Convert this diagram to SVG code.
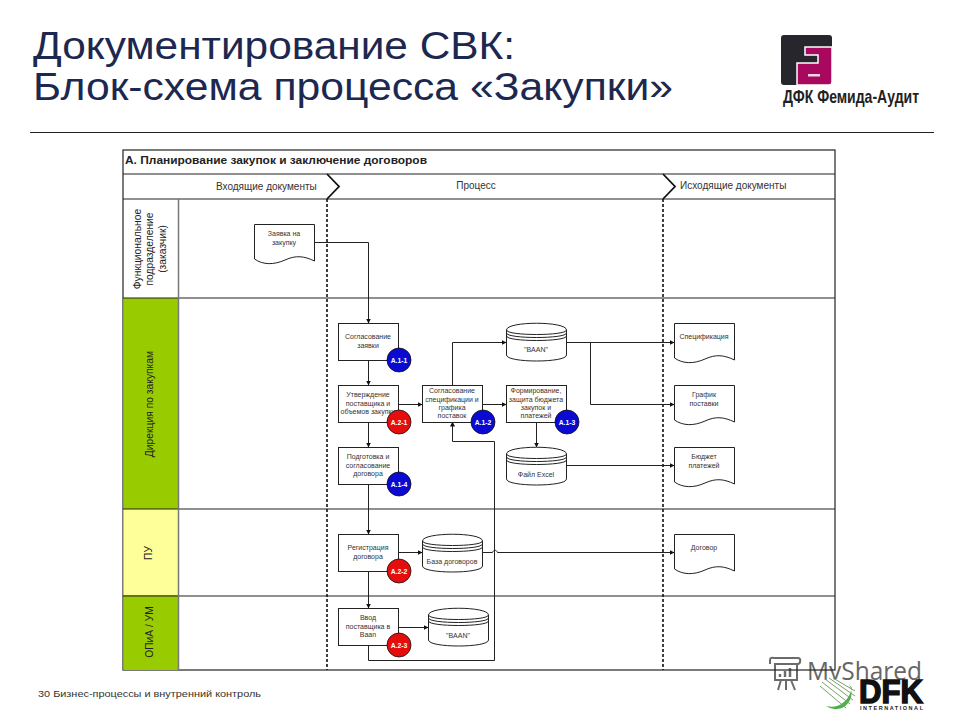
<svg xmlns="http://www.w3.org/2000/svg" width="960" height="720" viewBox="0 0 960 720">
<style>
text{font-family:"Liberation Sans",Arial,sans-serif;fill:#222}
.t{font-size:7px;text-anchor:middle;fill:#333}
.h{font-size:10px;fill:#333}
.l{font-size:10.300px;text-anchor:middle;fill:#222}
.c{font-size:6.800px;font-weight:bold;text-anchor:middle;fill:#fff}
.b{fill:#fff;stroke:#222;stroke-width:1}
.blue{fill:#0a0ad2;stroke:#111;stroke-width:.8}
.red{fill:#e60d0d;stroke:#111;stroke-width:.8}
.g{stroke:#222;fill:none}
.con{stroke:#222;fill:none;stroke-width:1}
.dash{stroke:#111;stroke-width:1.600;stroke-dasharray:3 2;fill:none}
.title{font-size:38px;fill:#1c2850}
</style>
<defs>
<marker id="a" markerWidth="5" markerHeight="5" refX="4.500" refY="2.500" orient="auto" markerUnits="userSpaceOnUse"><path d="M0 0L5 2.500L0 5z" fill="#111"/></marker>
<g id="doc"><path class="b" d="M0.500 0.500H60.500V37C50 32 42 31 31 36C20 41 9 41 0.500 35Z"/></g>
<g id="cyl"><path class="b" d="M0.500 7C0.500 -2 60.500 -2 60.500 7V32C60.500 40 0.500 40 0.500 32Z"/><path class="g" d="M0.500 7C0.500 13 60.500 13 60.500 7M0.500 10C0.500 16 60.500 16 60.500 10M0.500 13C0.500 19 60.500 19 60.500 13"/></g>
</defs>

<g id="heading">
<text class="title" x="33" y="59" textLength="482" lengthAdjust="spacingAndGlyphs">Документирование СВК:</text>
<text class="title" x="33" y="100" textLength="640" lengthAdjust="spacingAndGlyphs">Блок-схема процесса «Закупки»</text>
<line x1="30" y1="132.500" x2="934" y2="132.500" stroke="#222" stroke-width="1"/>
</g>

<g id="logo">
<rect x="781" y="35" width="51" height="50" rx="3" fill="#26262c"/>
<path d="M797 85V63H818V55H805V47H832V82C832 84 831 85 829 85Z" fill="#a8085e" stroke="#fff" stroke-width="1.500"/>
<rect x="808" y="74" width="12" height="2.500" fill="#f3d5e4"/>
<text x="783" y="103" font-size="19" font-weight="bold" textLength="136" lengthAdjust="spacingAndGlyphs" style="fill:#222">ДФК Фемида-Аудит</text>
</g>

<g id="watermark">
<g fill="none" stroke="#6b6b6b" stroke-width="2">
<path d="M770 664V660C770 657 773 658 775 658H798C801 658 801 663 798 664H775"/>
<rect x="775" y="664" width="22" height="16"/>
<path d="M781 680L778 690M786 680V690M791 680L795 690"/>
<path d="M780 677V674M785 677V671M790 677V668" stroke-width="2.500"/>
</g>
<text x="807" y="680" font-size="25" textLength="115" lengthAdjust="spacingAndGlyphs" style="fill:#666;font-family:'Open Sans','Liberation Sans',sans-serif">MyShared</text>
<circle cx="839" cy="695" r="16" fill="#fff"/>
<path d="M847 682A16 16 0 0 1 826 706C836 709 848 704 852 688Z" fill="#3aa835" fill-opacity=".9"/>
<path d="M820 686L846 708M822 682L850 704M825 679L853 700M829 678L855 696M833 678L855 691" stroke="#7aa068" stroke-width="1" fill="none"/>
<text x="859" y="703" font-size="33" font-weight="bold" textLength="64" lengthAdjust="spacingAndGlyphs" stroke="#111" stroke-width="1.500" style="fill:#111">DFK</text>
<text x="860" y="710" font-size="5.500" font-weight="bold" textLength="63" style="fill:#222">INTERNATIONAL</text>
</g>

<g id="table">
<rect x="123" y="150" width="712" height="520" fill="none" stroke="#222" stroke-width="1.200"/>
<rect x="123.500" y="298" width="55" height="211" fill="#99cc00"/>
<rect x="123.500" y="509" width="55" height="86" fill="#ffff99"/>
<rect x="123.500" y="595" width="55" height="75" fill="#99cc00"/>
<path d="M123 174H835M123 199H835M123 298H835M123 509H835M123 596H835" stroke="#222" stroke-width="1.200" fill="none"/>
<line x1="178.500" y1="199" x2="178.500" y2="670" stroke="#777" stroke-width="1.500"/>
<path d="M327 174L339 186.500L327 199M663 174L675 186.500L663 199" fill="#fff" stroke="#111" stroke-width="1.800"/>
<path class="dash" d="M327 199V670M663 199V670"/>
<text x="125" y="164" font-size="10.500" font-weight="bold" textLength="302" lengthAdjust="spacingAndGlyphs">A. Планирование закупок и заключение договоров</text>
<text class="h" x="216" y="190">Входящие документы</text>
<text class="h" x="476" y="189" text-anchor="middle">Процесс</text>
<text class="h" x="680" y="189">Исходящие документы</text>
<text class="l" transform="translate(141,249) rotate(-90)">Функциональное</text>
<text class="l" transform="translate(153,249) rotate(-90)">подразделение</text>
<text class="l" transform="translate(166,249) rotate(-90)">(заказчик)</text>
<text class="l" transform="translate(153,404) rotate(-90)">Дирекция по закупкам</text>
<text class="l" transform="translate(152,553) rotate(-90)">ПУ</text>
<text class="l" transform="translate(153,632) rotate(-90)">ОПиА / УМ</text>
</g>

<g id="connectors">
<path class="con" marker-end="url(#a)" d="M314 242.500H368.500V323"/>
<path class="con" marker-end="url(#a)" d="M368.500 360V385"/>
<path class="con" marker-end="url(#a)" d="M368.500 422V447"/>
<path class="con" marker-end="url(#a)" d="M368.500 484V534"/>
<path class="con" marker-end="url(#a)" d="M368.500 571V608"/>
<path class="con" marker-end="url(#a)" d="M399 404.500H422"/>
<path class="con" marker-end="url(#a)" d="M483 404.500H506"/>
<path class="con" marker-end="url(#a)" d="M452.500 385V342.500H506"/>
<path class="con" marker-end="url(#a)" d="M567 342.500H674"/>
<path class="con" marker-end="url(#a)" d="M590.500 342.500V404.500H674"/>
<path class="con" marker-end="url(#a)" d="M536.500 422V447"/>
<path class="con" marker-end="url(#a)" d="M567 465.500H674"/>
<path class="con" marker-end="url(#a)" d="M399 627.500H428"/>
<path class="con" marker-end="url(#a)" d="M399 552.500H422"/>
<path class="con" marker-end="url(#a)" d="M483 552.500H492.500C493.500 549.500 496.500 549.500 497.500 552.500H674"/>
<path class="con" marker-end="url(#a)" d="M368.500 645V660.500H494.500V441.500H452.500V422"/>
</g>

<g id="n-zayavka"><use href="#doc" x="254" y="224"/><text class="t"><tspan x="284" y="235.500">Заявка на</tspan><tspan x="284" y="244.500">закупку</tspan></text></g>

<g id="n-a11"><rect class="b" x="338.500" y="323.500" width="60" height="37"/><text class="t"><tspan x="368" y="339">Согласование</tspan><tspan x="368" y="348">заявки</tspan></text><circle class="blue" cx="399" cy="360" r="12"/><text class="c" x="399" y="362.500">A.1-1</text></g>
<g id="n-a21"><rect class="b" x="338.500" y="385.500" width="60" height="37"/><text class="t"><tspan x="368" y="397">Утверждение</tspan><tspan x="368" y="405.500">поставщика и</tspan><tspan x="368" y="414">объемов закупки</tspan></text><circle class="red" cx="399" cy="422" r="12"/><text class="c" x="399" y="424.500">A.2-1</text></g>
<g id="n-a14"><rect class="b" x="338.500" y="447.500" width="60" height="37"/><text class="t"><tspan x="368" y="459">Подготовка и</tspan><tspan x="368" y="468">согласование</tspan><tspan x="368" y="476">договора</tspan></text><circle class="blue" cx="399" cy="484" r="12"/><text class="c" x="399" y="486.500">A.1-4</text></g>
<g id="n-a12"><rect class="b" x="422.500" y="385.500" width="60" height="37"/><text class="t"><tspan x="452" y="393">Согласование</tspan><tspan x="452" y="401.500">спецификации и</tspan><tspan x="452" y="410">графика</tspan><tspan x="452" y="418">поставок</tspan></text><circle class="blue" cx="483" cy="422" r="12"/><text class="c" x="483" y="424.500">A.1-2</text></g>
<g id="n-a13"><rect class="b" x="506.500" y="385.500" width="60" height="37"/><text class="t"><tspan x="536" y="393">Формирование,</tspan><tspan x="536" y="401.500">защита бюджета</tspan><tspan x="536" y="410">закупок и</tspan><tspan x="536" y="418">платежей</tspan></text><circle class="blue" cx="567" cy="422" r="12"/><text class="c" x="567" y="424.500">A.1-3</text></g>
<g id="n-baan1"><use href="#cyl" x="506" y="323"/><text class="t" x="536" y="352">"BAAN"</text></g>
<g id="n-excel"><use href="#cyl" x="506" y="447"/><text class="t" x="536" y="477">Файл Excel</text></g>
<g id="n-a22"><rect class="b" x="338.500" y="534.500" width="60" height="37"/><text class="t"><tspan x="368" y="550">Регистрация</tspan><tspan x="368" y="558.500">договора</tspan></text><circle class="red" cx="399" cy="571" r="12"/><text class="c" x="399" y="573.500">A.2-2</text></g>
<g id="n-baza"><use href="#cyl" x="422" y="534"/><text class="t" x="452" y="563.500">База договоров</text></g>
<g id="n-a23"><rect class="b" x="338.500" y="608.500" width="60" height="37"/><text class="t"><tspan x="368" y="620">Ввод</tspan><tspan x="368" y="629">поставщика в</tspan><tspan x="368" y="637">Baan</tspan></text><circle class="red" cx="399" cy="645" r="12"/><text class="c" x="399" y="647.500">A.2-3</text></g>
<g id="n-baan2"><use href="#cyl" x="428" y="608"/><text class="t" x="458" y="637.500">"BAAN"</text></g>

<g id="n-spec"><use href="#doc" x="674" y="323"/><text class="t" x="704" y="339">Спецификация</text></g>
<g id="n-grafik"><use href="#doc" x="674" y="385"/><text class="t"><tspan x="704" y="397">График</tspan><tspan x="704" y="405.500">поставки</tspan></text></g>
<g id="n-budget"><use href="#doc" x="674" y="447"/><text class="t"><tspan x="704" y="459">Бюджет</tspan><tspan x="704" y="467.500">платежей</tspan></text></g>
<g id="n-dogovor"><use href="#doc" x="674" y="534"/><text class="t" x="704" y="550">Договор</text></g>

<text id="footer" x="38" y="697" font-size="9.500" style="fill:#333" textLength="223" lengthAdjust="spacingAndGlyphs">30 Бизнес-процессы и внутренний контроль</text>
</svg>
